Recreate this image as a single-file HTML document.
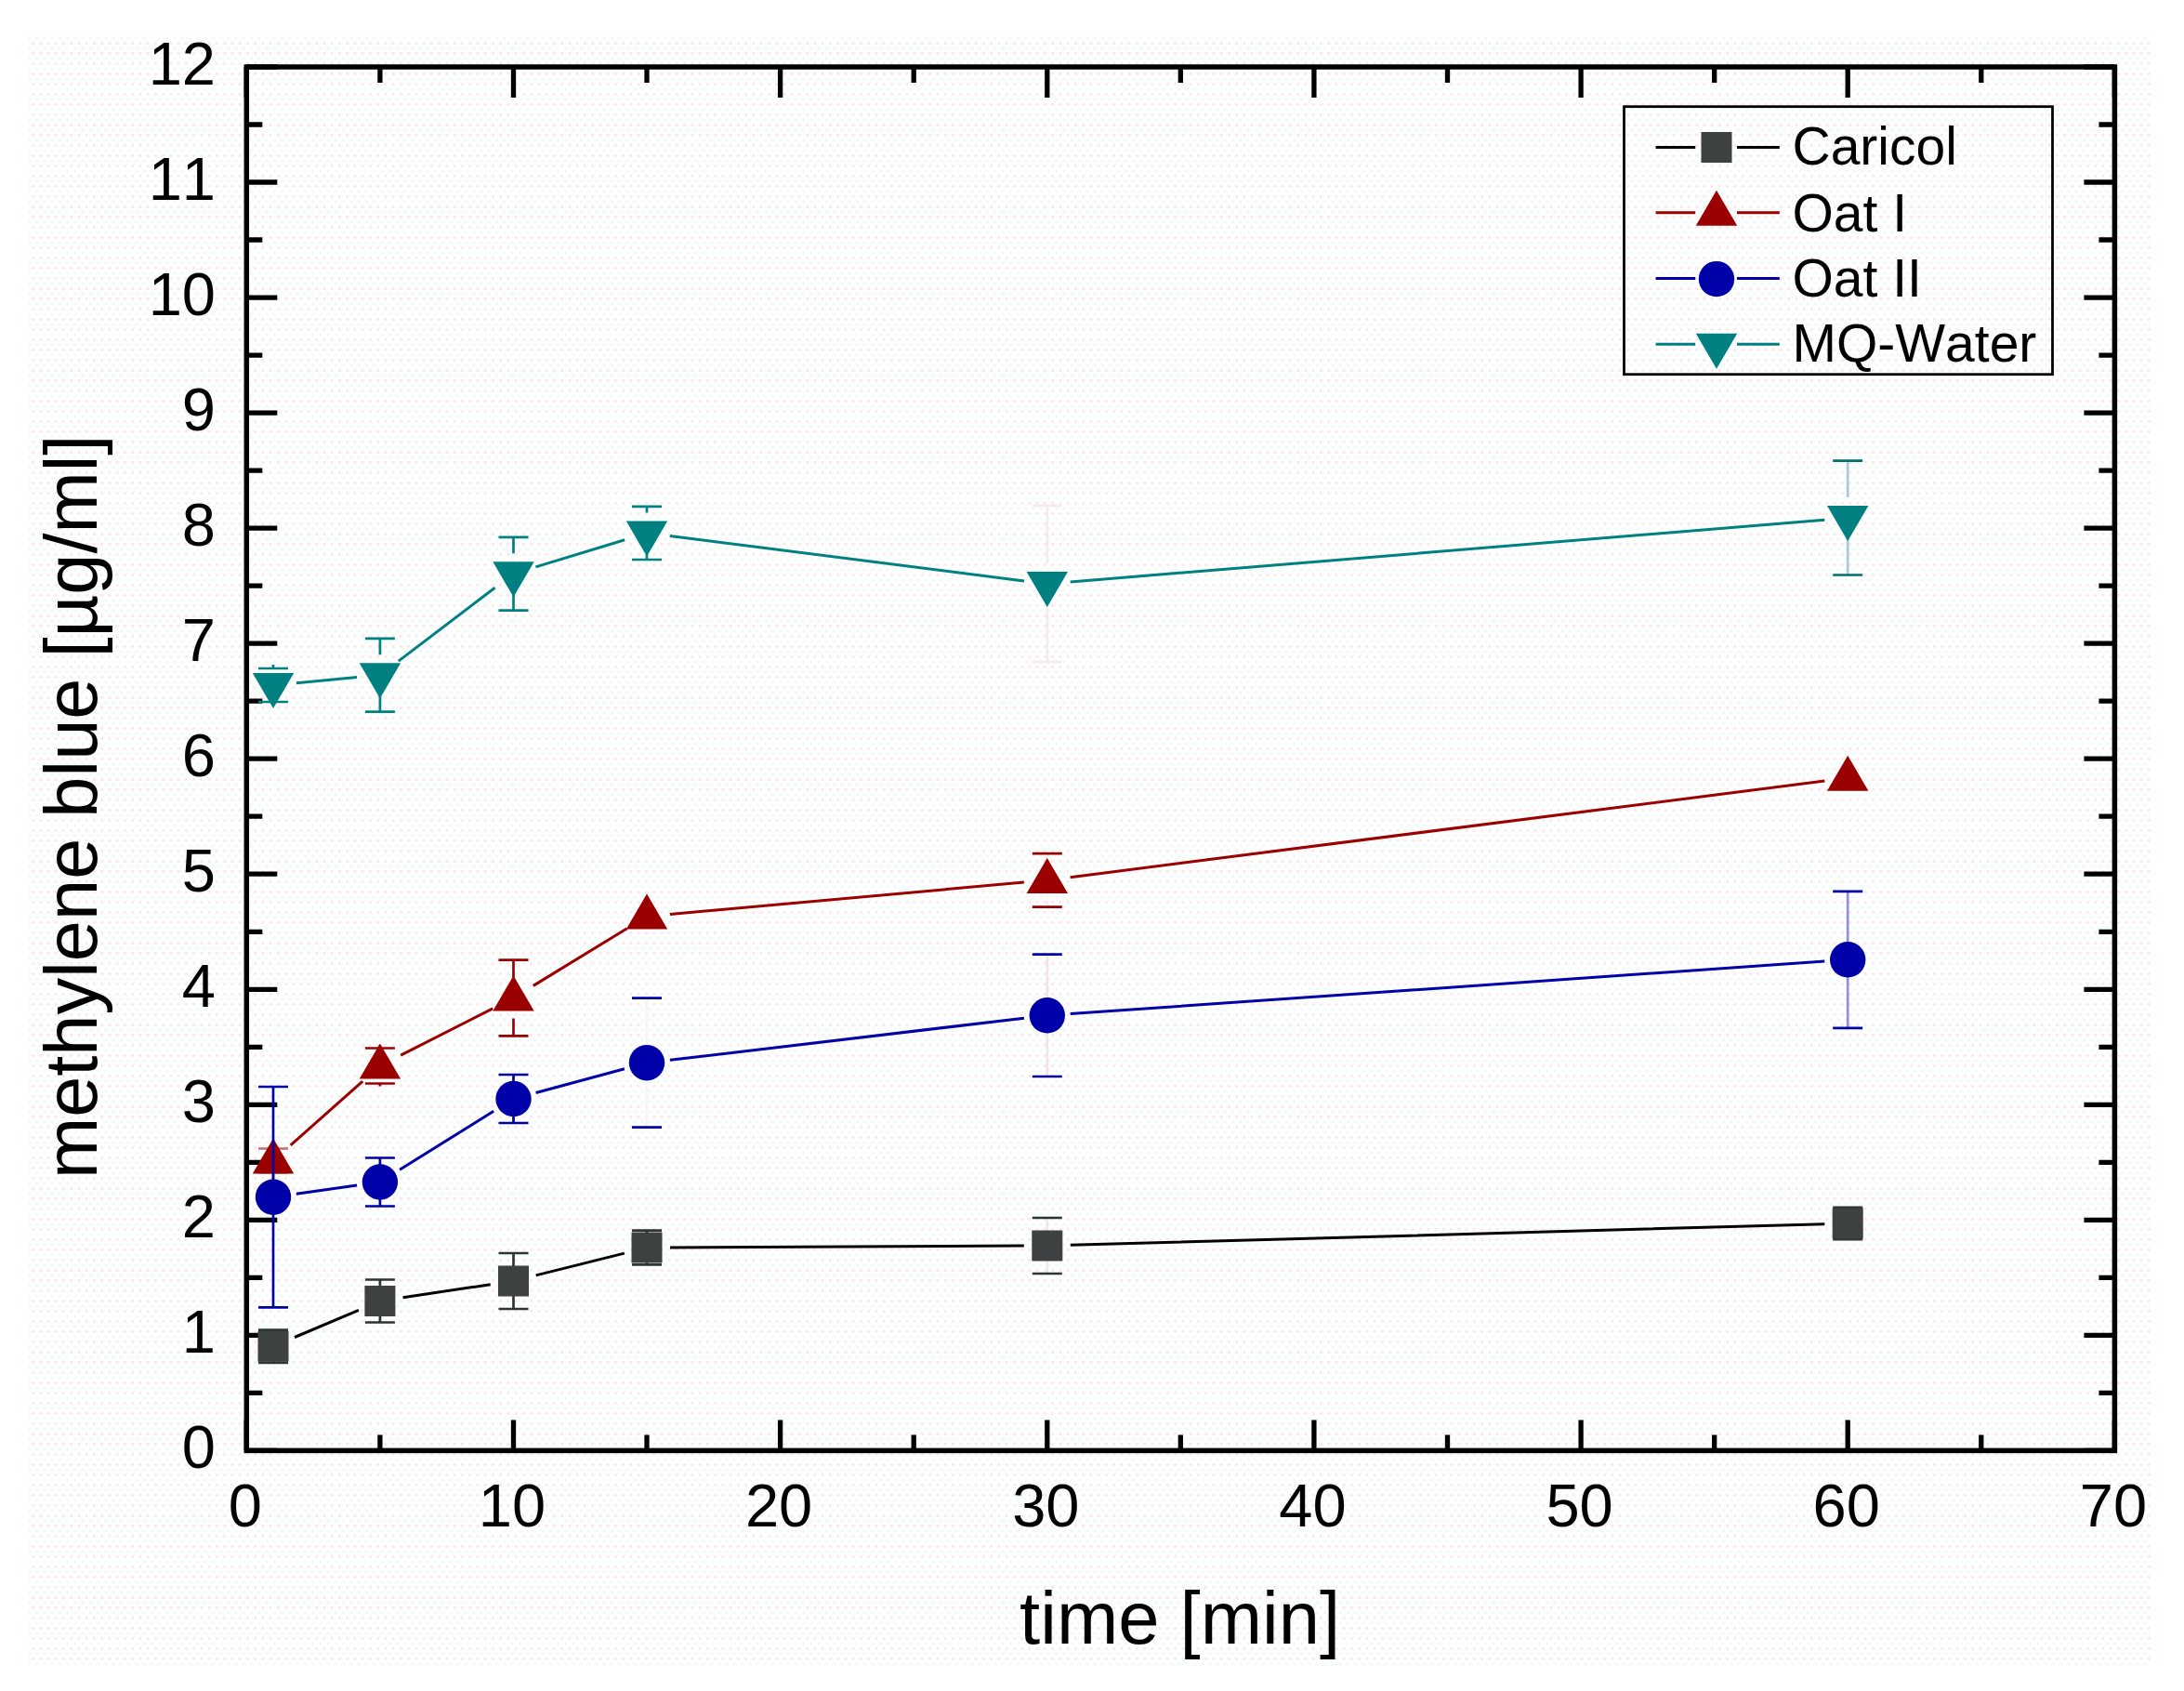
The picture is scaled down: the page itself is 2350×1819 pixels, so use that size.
<!DOCTYPE html>
<html lang="en"><head><meta charset="utf-8"><title>methylene blue release</title>
<style>html,body{margin:0;padding:0;background:#fff}body{width:2350px;height:1819px;overflow:hidden}svg{display:block}text{font-family:"Liberation Sans",Arial,Helvetica,sans-serif;fill:#000;font-kerning:none}</style>
</head><body>
<svg width="2350" height="1819" viewBox="0 0 2350 1819">
<rect x="0" y="0" width="2350" height="1819" fill="#ffffff"/>
<defs><pattern id="dz" width="8.25" height="11" patternUnits="userSpaceOnUse"><rect width="8.25" height="11" fill="#fefefe"/><rect x="1" y="1" width="2.8" height="2.8" fill="#f9eaea"/><rect x="5.2" y="6.5" width="2.8" height="2.8" fill="#eafcfc"/></pattern></defs>
<rect x="30" y="38" width="2284" height="1754" fill="url(#dz)"/>
<g stroke="#000" stroke-width="5.3" fill="none">
<path d="M265.3 1560.4h33.0M2275.4 1560.4h-33.0"/>
<path d="M265.3 1498.4h17.0M2275.4 1498.4h-17.0"/>
<path d="M265.3 1436.4h33.0M2275.4 1436.4h-33.0"/>
<path d="M265.3 1374.4h17.0M2275.4 1374.4h-17.0"/>
<path d="M265.3 1312.3h33.0M2275.4 1312.3h-33.0"/>
<path d="M265.3 1250.3h17.0M2275.4 1250.3h-17.0"/>
<path d="M265.3 1188.3h33.0M2275.4 1188.3h-33.0"/>
<path d="M265.3 1126.3h17.0M2275.4 1126.3h-17.0"/>
<path d="M265.3 1064.3h33.0M2275.4 1064.3h-33.0"/>
<path d="M265.3 1002.3h17.0M2275.4 1002.3h-17.0"/>
<path d="M265.3 940.2h33.0M2275.4 940.2h-33.0"/>
<path d="M265.3 878.2h17.0M2275.4 878.2h-17.0"/>
<path d="M265.3 816.2h33.0M2275.4 816.2h-33.0"/>
<path d="M265.3 754.2h17.0M2275.4 754.2h-17.0"/>
<path d="M265.3 692.2h33.0M2275.4 692.2h-33.0"/>
<path d="M265.3 630.2h17.0M2275.4 630.2h-17.0"/>
<path d="M265.3 568.1h33.0M2275.4 568.1h-33.0"/>
<path d="M265.3 506.1h17.0M2275.4 506.1h-17.0"/>
<path d="M265.3 444.1h33.0M2275.4 444.1h-33.0"/>
<path d="M265.3 382.1h17.0M2275.4 382.1h-17.0"/>
<path d="M265.3 320.1h33.0M2275.4 320.1h-33.0"/>
<path d="M265.3 258.0h17.0M2275.4 258.0h-17.0"/>
<path d="M265.3 196.0h33.0M2275.4 196.0h-33.0"/>
<path d="M265.3 134.0h17.0M2275.4 134.0h-17.0"/>
<path d="M265.3 72.0h33.0M2275.4 72.0h-33.0"/>
<path d="M265.3 1560.4v-33.0M265.3 72.0v33.0"/>
<path d="M408.9 1560.4v-17.0M408.9 72.0v17.0"/>
<path d="M552.5 1560.4v-33.0M552.5 72.0v33.0"/>
<path d="M696.0 1560.4v-17.0M696.0 72.0v17.0"/>
<path d="M839.6 1560.4v-33.0M839.6 72.0v33.0"/>
<path d="M983.2 1560.4v-17.0M983.2 72.0v17.0"/>
<path d="M1126.8 1560.4v-33.0M1126.8 72.0v33.0"/>
<path d="M1270.3 1560.4v-17.0M1270.3 72.0v17.0"/>
<path d="M1413.9 1560.4v-33.0M1413.9 72.0v33.0"/>
<path d="M1557.5 1560.4v-17.0M1557.5 72.0v17.0"/>
<path d="M1701.1 1560.4v-33.0M1701.1 72.0v33.0"/>
<path d="M1844.7 1560.4v-17.0M1844.7 72.0v17.0"/>
<path d="M1988.2 1560.4v-33.0M1988.2 72.0v33.0"/>
<path d="M2131.8 1560.4v-17.0M2131.8 72.0v17.0"/>
<path d="M2275.4 1560.4v-33.0M2275.4 72.0v33.0"/>
</g>
<rect x="265.3" y="72.0" width="2010.1" height="1488.4" fill="none" stroke="#000" stroke-width="5.5"/>
<g font-size="65px" text-anchor="end">
<text x="232" y="1578.9">0</text>
<text x="232" y="1454.9">1</text>
<text x="232" y="1330.8">2</text>
<text x="232" y="1206.8">3</text>
<text x="232" y="1082.8">4</text>
<text x="232" y="958.7">5</text>
<text x="232" y="834.7">6</text>
<text x="232" y="710.7">7</text>
<text x="232" y="586.6">8</text>
<text x="232" y="462.6">9</text>
<text x="232" y="338.6">10</text>
<text x="232" y="214.5">11</text>
<text x="232" y="90.5">12</text>
</g>
<g font-size="65px" text-anchor="middle">
<text x="263.8" y="1642">0</text>
<text x="551.0" y="1642">10</text>
<text x="838.1" y="1642">20</text>
<text x="1125.3" y="1642">30</text>
<text x="1412.4" y="1642">40</text>
<text x="1699.6" y="1642">50</text>
<text x="1986.7" y="1642">60</text>
<text x="2273.9" y="1642">70</text>
</g>
<text x="1269.6" y="1768.4" font-size="79.6px" text-anchor="middle">time [min]</text>
<text transform="translate(104.3 1268) rotate(-90)" font-size="79.4px">methylene blue [µg/ml]</text>
<g>
<path d="M317.0 1438.5L385.9 1409.3M433.6 1395.8L527.7 1381.7M576.7 1371.9L671.8 1348.1M721.0 1341.9L1101.8 1340.1M1151.8 1339.3L1963.3 1316.7" stroke="#000000" stroke-width="3.0" fill="none"/>
<path d="M294.0 1430.7V1438.3M294.0 1458.3V1465.9" stroke="#2c3434" stroke-width="2.7" fill="none"/>
<path d="M278.0 1430.7h32M278.0 1465.9h32" stroke="#2c3434" stroke-width="2.7" fill="none"/>
<path d="M408.9 1376.5V1389.5M408.9 1409.5V1422.5" stroke="#2c3434" stroke-width="2.7" fill="none"/>
<path d="M392.9 1376.5h32M392.9 1422.5h32" stroke="#2c3434" stroke-width="2.7" fill="none"/>
<path d="M552.5 1348.0V1368.0M552.5 1388.0V1408.0" stroke="#2c3434" stroke-width="2.7" fill="none"/>
<path d="M536.5 1348.0h32M536.5 1408.0h32" stroke="#2c3434" stroke-width="2.7" fill="none"/>
<path d="M696.0 1323.6V1332.0M696.0 1352.0V1360.4" stroke="#2c3434" stroke-width="2.7" fill="none"/>
<path d="M680.0 1323.6h32M680.0 1360.4h32" stroke="#2c3434" stroke-width="2.7" fill="none"/>
<path d="M1126.8 1310.0V1330.0M1126.8 1350.0V1370.0" stroke="#f3e6e6" stroke-width="2.7" fill="none"/>
<path d="M1110.8 1310.0h32M1110.8 1370.0h32" stroke="#2c3434" stroke-width="2.7" fill="none"/>
<path d="M1988.2 1298.8V1306.0M1988.2 1326.0V1333.2" stroke="#2c3434" stroke-width="2.7" fill="none"/>
<path d="M1972.2 1298.8h32M1972.2 1333.2h32" stroke="#2c3434" stroke-width="2.7" fill="none"/>
<rect x="277.5" y="1431.8" width="33" height="33" fill="#3d4141"/>
<rect x="392.4" y="1383.0" width="33" height="33" fill="#3d4141"/>
<rect x="536.0" y="1361.5" width="33" height="33" fill="#3d4141"/>
<rect x="679.5" y="1325.5" width="33" height="33" fill="#3d4141"/>
<rect x="1110.3" y="1323.5" width="33" height="33" fill="#3d4141"/>
<rect x="1971.7" y="1299.5" width="33" height="33" fill="#3d4141"/>
</g>
<g>
<path d="M312.7 1231.9L390.2 1163.1M431.2 1135.2L530.2 1084.8M573.8 1060.4L674.7 998.7M720.9 983.4L1101.9 949.1M1151.6 943.7L1963.4 840.0" stroke="#9b0000" stroke-width="3.0" fill="none"/>
<path d="M294.0 1235.5V1226.5M294.0 1270.5V1261.5" stroke="#c07070" stroke-width="2.7" fill="none"/>
<path d="M278.0 1235.5h32M278.0 1261.5h32" stroke="#c07070" stroke-width="2.7" fill="none"/>
<path d="M408.9 1127.5V1124.5M408.9 1168.5V1165.5" stroke="#9b0000" stroke-width="2.7" fill="none"/>
<path d="M392.9 1127.5h32M392.9 1165.5h32" stroke="#9b0000" stroke-width="2.7" fill="none"/>
<path d="M552.5 1032.7V1051.5M552.5 1095.5V1114.3" stroke="#9b0000" stroke-width="2.7" fill="none"/>
<path d="M536.5 1032.7h32M536.5 1114.3h32" stroke="#9b0000" stroke-width="2.7" fill="none"/>
<path d="M1126.8 918.2V924.9M1126.8 968.9V975.6" stroke="#f7ecec" stroke-width="2.7" fill="none"/>
<path d="M1110.8 918.2h32M1110.8 975.6h32" stroke="#9b0000" stroke-width="2.7" fill="none"/>
<path d="M294.0 1224.5L316.2 1262.5L271.8 1262.5Z" fill="#9b0000"/>
<path d="M408.9 1122.5L431.1 1160.5L386.7 1160.5Z" fill="#9b0000"/>
<path d="M552.5 1049.5L574.7 1087.5L530.3 1087.5Z" fill="#9b0000"/>
<path d="M696.0 961.6L718.2 999.6L673.8 999.6Z" fill="#9b0000"/>
<path d="M1126.8 922.9L1149.0 960.9L1104.6 960.9Z" fill="#9b0000"/>
<path d="M1988.2 812.8L2010.4 850.8L1966.0 850.8Z" fill="#9b0000"/>
</g>
<g>
<path d="M318.8 1284.2L384.1 1275.0M430.1 1258.3L531.2 1195.2M576.6 1175.5L671.9 1149.7M720.9 1140.3L1101.9 1095.2M1151.7 1090.6L1963.3 1034.0" stroke="#0000a8" stroke-width="3.0" fill="none"/>
<path d="M294.0 1169.0V1277.7M294.0 1297.7V1406.4" stroke="#0000a8" stroke-width="2.7" fill="none"/>
<path d="M278.0 1169.0h32M278.0 1406.4h32" stroke="#0000a8" stroke-width="2.7" fill="none"/>
<path d="M408.9 1245.5V1261.5M408.9 1281.5V1297.5" stroke="#0000a8" stroke-width="2.7" fill="none"/>
<path d="M392.9 1245.5h32M392.9 1297.5h32" stroke="#0000a8" stroke-width="2.7" fill="none"/>
<path d="M552.5 1156.0V1172.0M552.5 1192.0V1208.0" stroke="#0000a8" stroke-width="2.7" fill="none"/>
<path d="M536.5 1156.0h32M536.5 1208.0h32" stroke="#0000a8" stroke-width="2.7" fill="none"/>
<path d="M696.0 1073.7V1133.2M696.0 1153.2V1212.7" stroke="#fbf3f3" stroke-width="2.7" fill="none"/>
<path d="M680.0 1073.7h32M680.0 1212.7h32" stroke="#0000a8" stroke-width="2.7" fill="none"/>
<path d="M1126.8 1026.6V1082.3M1126.8 1102.3V1158.0" stroke="#f3e3e6" stroke-width="2.7" fill="none"/>
<path d="M1110.8 1026.6h32M1110.8 1158.0h32" stroke="#0000a8" stroke-width="2.7" fill="none"/>
<path d="M1988.2 958.8V1022.3M1988.2 1042.3V1105.8" stroke="#8f8fe6" stroke-width="2.7" fill="none"/>
<path d="M1972.2 958.8h32M1972.2 1105.8h32" stroke="#0000a8" stroke-width="2.7" fill="none"/>
<circle cx="294.0" cy="1287.7" r="19.2" fill="#0000a8"/>
<circle cx="408.9" cy="1271.5" r="19.2" fill="#0000a8"/>
<circle cx="552.5" cy="1182.0" r="19.2" fill="#0000a8"/>
<circle cx="696.0" cy="1143.2" r="19.2" fill="#0000a8"/>
<circle cx="1126.8" cy="1092.3" r="19.2" fill="#0000a8"/>
<circle cx="1988.2" cy="1032.3" r="19.2" fill="#0000a8"/>
</g>
<g>
<path d="M318.9 734.7L384.0 728.5M428.8 711.1L532.5 632.3M576.4 609.9L672.1 580.7M720.8 576.5L1102.0 624.9M1151.7 625.9L1963.3 559.2" stroke="#008080" stroke-width="3.0" fill="none"/>
<path d="M294.0 719.0V715.0M294.0 759.0V755.0" stroke="#008080" stroke-width="2.7" fill="none"/>
<path d="M278.0 719.0h32M278.0 755.0h32" stroke="#008080" stroke-width="2.7" fill="none"/>
<path d="M408.9 686.8V704.2M408.9 748.2V765.6" stroke="#008080" stroke-width="2.7" fill="none"/>
<path d="M392.9 686.8h32M392.9 765.6h32" stroke="#008080" stroke-width="2.7" fill="none"/>
<path d="M552.5 577.8V595.2M552.5 639.2V656.6" stroke="#008080" stroke-width="2.7" fill="none"/>
<path d="M536.5 577.8h32M536.5 656.6h32" stroke="#008080" stroke-width="2.7" fill="none"/>
<path d="M696.0 544.8V551.4M696.0 595.4V602.0" stroke="#008080" stroke-width="2.7" fill="none"/>
<path d="M680.0 544.8h32M680.0 602.0h32" stroke="#008080" stroke-width="2.7" fill="none"/>
<path d="M1126.8 544.0V606.0M1126.8 650.0V712.0" stroke="#f6eaea" stroke-width="2.7" fill="none"/>
<path d="M1110.8 544.0h32M1110.8 712.0h32" stroke="#f6eaea" stroke-width="2.7" fill="none"/>
<path d="M1988.2 495.7V535.1M1988.2 579.1V618.5" stroke="#a8c8e0" stroke-width="2.7" fill="none"/>
<path d="M1972.2 495.7h32M1972.2 618.5h32" stroke="#007070" stroke-width="2.7" fill="none"/>
<path d="M294.0 762.0L316.2 724.0L271.8 724.0Z" fill="#008080"/>
<path d="M408.9 751.2L431.1 713.2L386.7 713.2Z" fill="#008080"/>
<path d="M552.5 642.2L574.7 604.2L530.3 604.2Z" fill="#008080"/>
<path d="M696.0 598.4L718.2 560.4L673.8 560.4Z" fill="#008080"/>
<path d="M1126.8 653.0L1149.0 615.0L1104.6 615.0Z" fill="#008080"/>
<path d="M1988.2 582.1L2010.4 544.1L1966.0 544.1Z" fill="#008080"/>
</g>
<rect x="1747.5" y="114.7" width="461" height="288" fill="url(#dz)" stroke="#000" stroke-width="2.8"/>
<path d="M1781.6 158.5H1824.2M1869 158.5H1914.8" stroke="#000000" stroke-width="3" fill="none"/>
<rect x="1830.5" y="142.0" width="33" height="33" fill="#3d4141"/>
<text x="1928.5" y="176.5" font-size="57px">Caricol</text>
<path d="M1781.6 228.8H1824.2M1869 228.8H1914.8" stroke="#9b0000" stroke-width="3" fill="none"/>
<path d="M1847.0 204.8L1869.2 242.8L1824.8 242.8Z" fill="#9b0000"/>
<text x="1928.5" y="248.6" font-size="57px">Oat I</text>
<path d="M1781.6 299.6H1824.2M1869 299.6H1914.8" stroke="#0000a8" stroke-width="3" fill="none"/>
<circle cx="1847.0" cy="300.1" r="19.2" fill="#0000a8"/>
<text x="1928.5" y="319.1" font-size="57px">Oat II</text>
<path d="M1781.6 370.3H1824.2M1869 370.3H1914.8" stroke="#008080" stroke-width="3" fill="none"/>
<path d="M1847.0 396.7L1869.2 358.7L1824.8 358.7Z" fill="#008080"/>
<text x="1928.5" y="389.3" font-size="57px">MQ-Water</text>
</svg>
</body></html>
